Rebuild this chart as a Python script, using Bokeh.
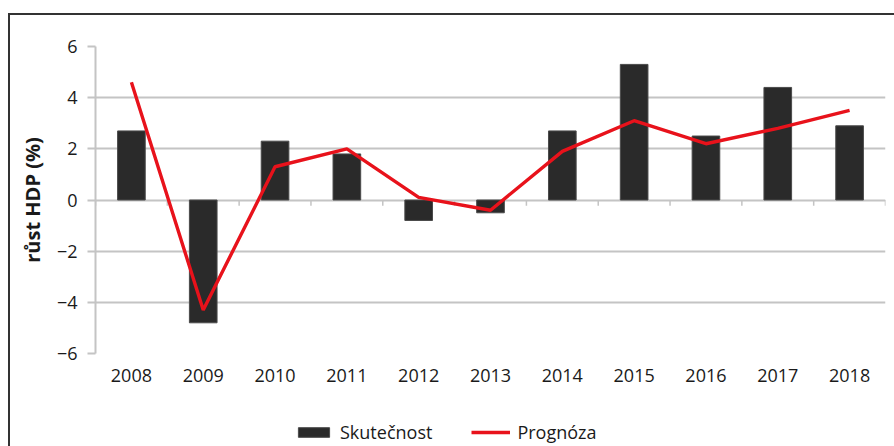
from bokeh.plotting import figure
from bokeh.layouts import column
from bokeh.models import Range1d, FixedTicker, Legend, LegendItem, ColumnDataSource
from bokeh.embed import file_html
from bokeh.resources import INLINE

years = ["2008", "2009", "2010", "2011", "2012", "2013", "2014", "2015", "2016", "2017", "2018"]
skutecnost = [2.7, -4.8, 2.3, 1.8, -0.8, -0.5, 2.7, 5.3, 2.5, 4.4, 2.9]
prognoza = [4.6, -4.3, 1.3, 2.0, 0.1, -0.4, 1.9, 3.1, 2.2, 2.8, 3.5]
y_ticks = [-6, -4, -2, 0, 2, 4, 6]
series_names = ["Skutečnost", "Prognóza"]

idx = list(range(len(years)))
src = ColumnDataSource(dict(x=idx, actual=skutecnost, forecast=prognoza))

FONT = "Open Sans"
GRID = "#c4c4c4"
BAR_FILL = "#2a2a2a"
BAR_LINE = "#4a4a4a"
RED = "#e8121b"

p = figure(width=884, height=388, output_backend="svg", toolbar_location=None,
           x_range=Range1d(-0.5, len(years) - 0.5), y_range=Range1d(y_ticks[0], y_ticks[-1]),
           min_border_left=85, min_border_right=9, min_border_top=31, min_border_bottom=50)
p.outline_line_color = None
p.background_fill_color = "white"
p.border_fill_color = "white"

p.xgrid.grid_line_color = None
p.ygrid.ticker = FixedTicker(ticks=y_ticks)
p.ygrid.grid_line_color = GRID
p.ygrid.grid_line_width = 2

# y axis
p.yaxis.ticker = FixedTicker(ticks=y_ticks)
p.yaxis.major_label_overrides = {t: str(t).replace("-", "\u2212") for t in y_ticks}
p.yaxis.axis_line_color = GRID
p.yaxis.axis_line_width = 2
p.yaxis.major_tick_line_color = GRID
p.yaxis.major_tick_line_width = 2
p.yaxis.major_tick_out = 8
p.yaxis.major_tick_in = 0
p.yaxis.minor_tick_line_color = None
p.yaxis.major_label_standoff = 10
p.yaxis.major_label_text_font = FONT
p.yaxis.major_label_text_font_size = "18px"
p.yaxis.major_label_text_color = "#1a1a1a"
p.yaxis.axis_label = "růst HDP (%)"
p.yaxis.axis_label_text_font = FONT
p.yaxis.axis_label_text_font_style = "bold"
p.yaxis.axis_label_text_font_size = "20px"
p.yaxis.axis_label_text_color = "#1a1a1a"
p.yaxis.axis_label_standoff = 8

# x axis (labels only)
p.xaxis.ticker = FixedTicker(ticks=idx)
p.xaxis.major_label_overrides = {i: y for i, y in zip(idx, years)}
p.xaxis.axis_line_color = None
p.xaxis.major_tick_line_color = None
p.xaxis.minor_tick_line_color = None
p.xaxis.major_label_standoff = 9
p.xaxis.major_label_text_font = FONT
p.xaxis.major_label_text_font_size = "18px"
p.xaxis.major_label_text_color = "#1a1a1a"

# category boundary ticks on the zero line
bounds = [i - 0.5 for i in range(len(years) + 1)]
p.segment(x0=bounds, y0=[0] * len(bounds), x1=bounds, y1=[-0.22] * len(bounds),
          line_color=GRID, line_width=1.5)

p.vbar(x="x", top="actual", bottom=0, width=0.385, source=src,
       fill_color=BAR_FILL, line_color=BAR_LINE, line_width=1)
p.line(x="x", y="forecast", source=src, line_color=RED, line_width=3.4)

# legend strip below the chart (same series, kept out of this strip's view)
lg = figure(width=884, height=43, output_backend="svg", toolbar_location=None,
            x_axis_type=None, y_axis_type=None,
            x_range=Range1d(100, 101), y_range=Range1d(100, 101),
            min_border_left=0, min_border_right=0, min_border_top=0, min_border_bottom=0)
lg.outline_line_color = None
lg.xgrid.grid_line_color = None
lg.ygrid.grid_line_color = None
r_bar = lg.vbar(x="x", top="actual", bottom=0, width=0.385, source=src,
                fill_color=BAR_FILL, line_color=BAR_LINE, line_width=1)
r_line = lg.line(x="x", y="forecast", source=src, line_color=RED, line_width=3.4)
legend = Legend(items=[LegendItem(label=series_names[0], renderers=[r_bar]),
                       LegendItem(label=series_names[1], renderers=[r_line])],
                location=(199, 2), orientation="horizontal",
                glyph_width=39, glyph_height=12, label_standoff=7, spacing=39,
                padding=0, margin=0, border_line_color=None, background_fill_alpha=0,
                label_text_font=FONT, label_text_font_size="18px", label_text_color="#1a1a1a")
lg.add_layout(legend, "center")

layout = column(p, lg, spacing=0,
                styles={"margin-top": "13px", "margin-left": "8px",
                        "border-top": "2px solid #333333", "border-left": "2px solid #333333"})

open("out.html", "w").write(file_html(layout, INLINE))
